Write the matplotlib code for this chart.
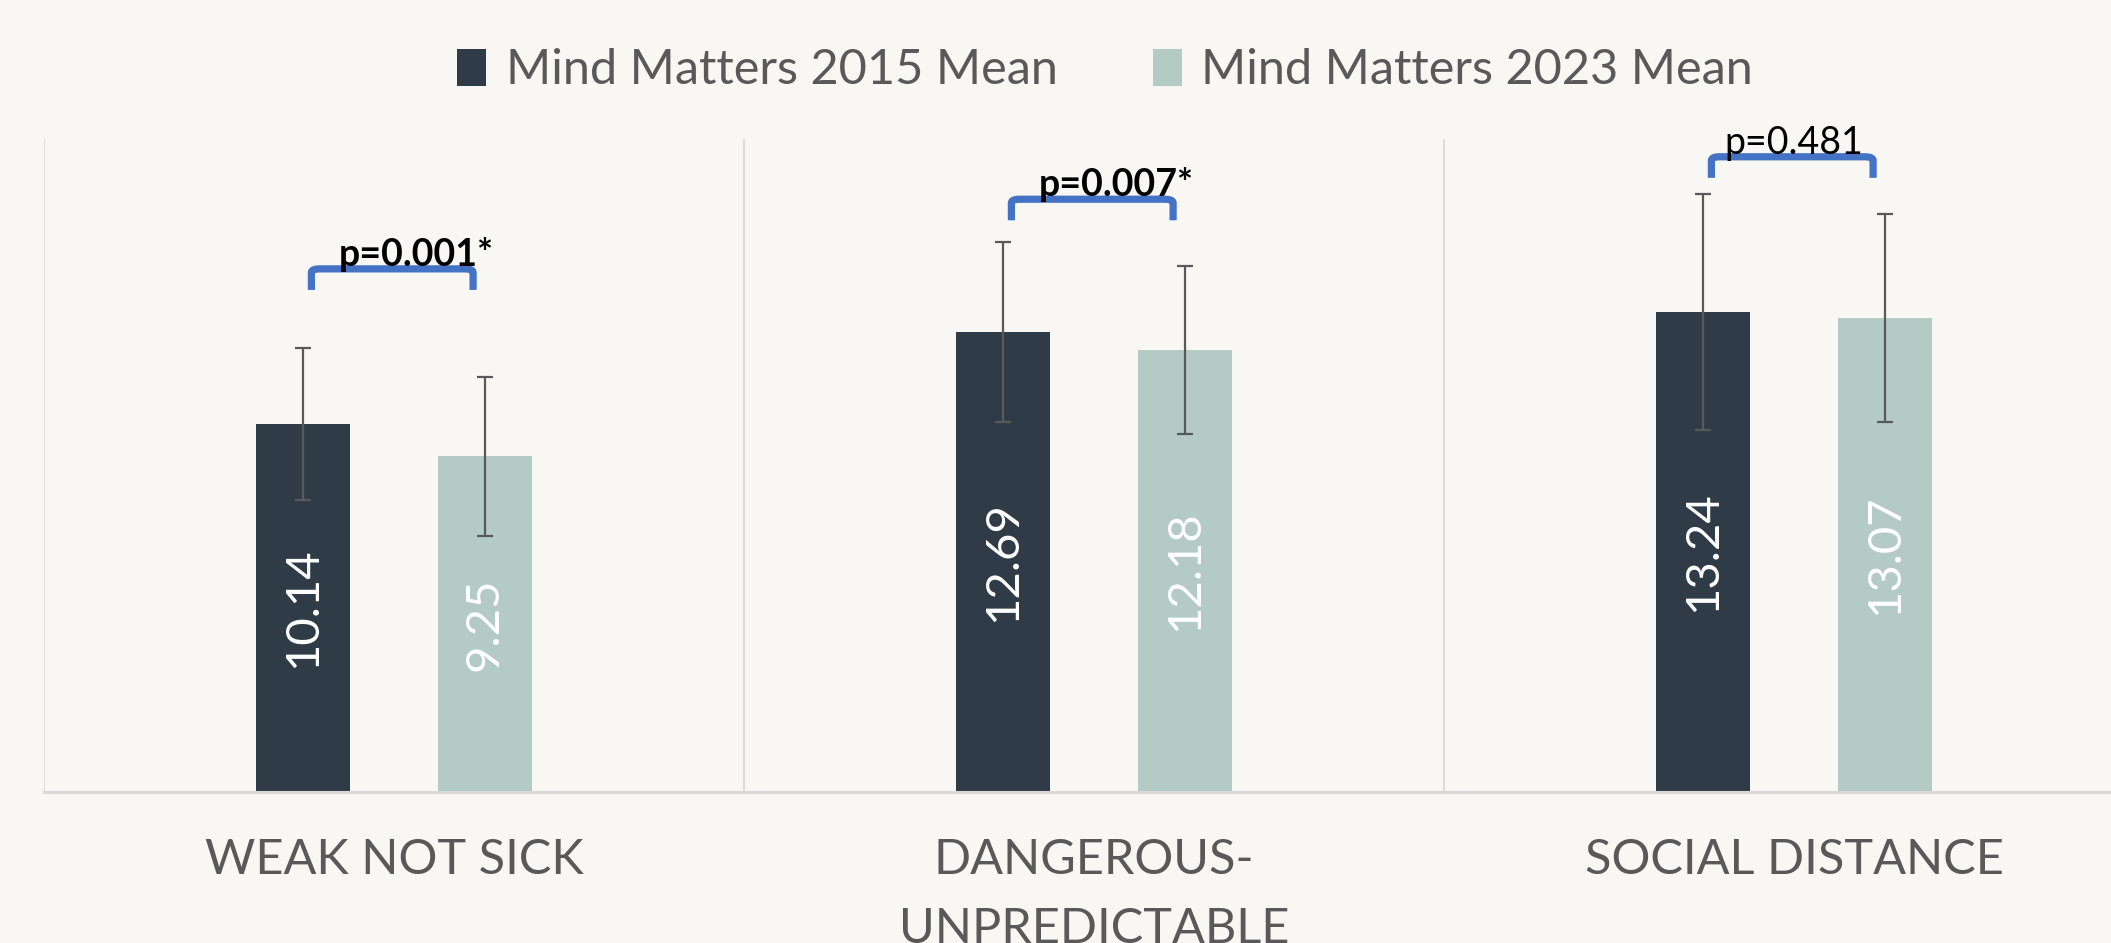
import matplotlib.pyplot as plt
from matplotlib.path import Path
from matplotlib.patches import PathPatch
import numpy as np

plt.rcParams['font.family'] = ['Lato', 'DejaVu Sans']

# data
categories = ['WEAK NOT SICK', 'DANGEROUS-\nUNPREDICTABLE', 'SOCIAL DISTANCE']
series = ['Mind Matters 2015 Mean', 'Mind Matters 2023 Mean']
mean_2015 = [10.14, 12.69, 13.24]
mean_2023 = [9.25, 12.18, 13.07]
err_2015 = [2.10, 2.48, 3.25]
err_2023 = [2.20, 2.31, 2.86]
p_labels = ['p=0.001*', 'p=0.007*', 'p=0.481']
p_significant = [True, True, False]
bracket_top = [14.42, 16.34, 17.51]

bg = '#F8F7F3'
c_dark = '#2F3C48'
c_light = '#B4CAC5'
grey = '#595959'

fig = plt.figure(figsize=(21.11, 9.43), dpi=100, facecolor=bg)
ax = fig.add_axes([44 / 2111, 151 / 943, 2100 / 2111, 653 / 943])
ax.set_facecolor(bg)

x = np.arange(len(categories))
off = 0.13
w = 0.135

for vals, errs, color, dx, label in [(mean_2015, err_2015, c_dark, -off, series[0]),
                                      (mean_2023, err_2023, c_light, off, series[1])]:
    ax.bar(x + dx, vals, width=w, color=color, label=label, zorder=2)
    ax.errorbar(x + dx, vals, yerr=errs, fmt='none', ecolor=grey, elinewidth=1.6,
                capsize=6, capthick=1.6, zorder=3)
    for xi, v in zip(x + dx, vals):
        ax.text(xi, v / 2, f'{v:.2f}', rotation=90, ha='center', va='center',
                color='white', fontsize=34, zorder=4)

# significance brackets
for i, (lab, sig, top) in enumerate(zip(p_labels, p_significant, bracket_top)):
    l, r = i - 0.118, i + 0.113
    leg = 0.58
    rad = 0.012
    verts = [(l, top - leg), (l, top - 0.1), (l, top), (l + rad, top),
             (r - rad, top), (r, top), (r, top - 0.1), (r, top - leg)]
    codes = [Path.MOVETO, Path.LINETO, Path.CURVE3, Path.CURVE3,
             Path.LINETO, Path.CURVE3, Path.CURVE3, Path.LINETO]
    ax.add_patch(PathPatch(Path(verts, codes), fill=False, edgecolor='#4472C4',
                           linewidth=5.2, capstyle='butt', joinstyle='round', zorder=3))
    ax.text(i + (0.032 if sig else 0.0), top + 0.08, lab, ha='center', va='baseline',
            fontsize=27, fontweight='bold' if sig else 'normal', color='black', zorder=4)

ax.set_xlim(-0.5, 2.5)
ax.set_ylim(0, 18)

for xv in [-0.5, 0.5, 1.5]:
    ax.axvline(xv, color='#D9D9D9', linewidth=1.3, zorder=1)

for s in ['top', 'right', 'left']:
    ax.spines[s].set_visible(False)
ax.spines['bottom'].set_color('#D9D9D9')
ax.spines['bottom'].set_linewidth(2.2)
ax.set_yticks([])
ax.set_xticks(x)
ax.set_xticklabels(categories, fontsize=35, color=grey, linespacing=1.7)
ax.tick_params(axis='x', length=0, pad=33)

fig.legend(loc='upper center', bbox_to_anchor=(0.5235, 0.995), ncol=2, frameon=False,
           fontsize=35, labelcolor=grey, handlelength=0.6, handleheight=0.8,
           handletextpad=0.4, columnspacing=1.96)

fig.savefig('out.png', dpi=100, facecolor=bg)
